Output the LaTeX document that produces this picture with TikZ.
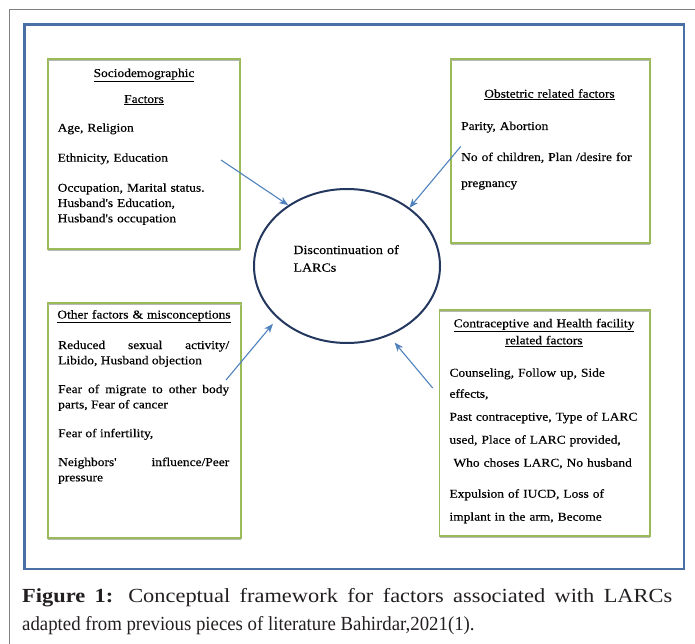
\documentclass[tikz,border=0pt]{standalone}
\usepackage{fontspec}
\newfontfamily\boxfont[FakeStretch=1.12, FakeBold=0.4]{Liberation Serif}
\newfontfamily\capfont[FakeStretch=0.94]{Liberation Serif}
\newfontfamily\capwidefont[FakeStretch=1.12]{Liberation Serif}
\usetikzlibrary{arrows.meta}
\usetikzlibrary{shapes.geometric}
\definecolor{frameblue}{RGB}{74,111,165}
\definecolor{boxgreen}{RGB}{155,187,89}
\definecolor{arrowblue}{RGB}{79,129,189}
\definecolor{ovalnavy}{RGB}{35,55,95}
\definecolor{capgray}{RGB}{35,31,32}

\begin{document}
\begin{tikzpicture}[x=1pt, y=-1pt,
    factorbox/.style={rectangle, draw=boxgreen, line width=1.3pt, inner sep=0pt, outer sep=0pt},
    boxshade/.style={black!28, line width=1.2pt},
    headtxt/.style={font=\boxfont\fontsize{12}{15.3}\selectfont, align=center, inner sep=0pt, anchor=base, text width=#1},
    bodytxt/.style={font=\boxfont\fontsize{12}{15.3}\selectfont, align=left, inner sep=0pt, anchor=base west, text width=#1},
    arr/.style={draw=arrowblue, line width=1.1pt, -{Stealth[length=9pt, width=7pt, inset=2.5pt]}}]
      \useasboundingbox (0,0) rectangle (695,644);

      % frames
      \draw[black!50, line width=1pt] (9.5,644) -- (9.5,10) -- (695,10);
      \draw[frameblue, line width=2.5pt] (24.5,24.5) rectangle (684,569);

      % factor boxes
      \node[factorbox, minimum width=192pt, minimum height=190pt] (socio) at (144,154) {};
      \node[factorbox, minimum width=199pt, minimum height=184pt] (obst) at (550.5,151) {};
      \node[factorbox, minimum width=193pt, minimum height=235pt] (other) at (144.5,420.5) {};
      \node[factorbox, minimum width=210.5pt, minimum height=226pt] (contra) at (544.75,423) {};
      \foreach \b in {socio, obst, other, contra} {
        \draw[boxshade] ([yshift=-1.3pt]\b.north west) -- ([yshift=-1.3pt]\b.north east);
        \draw[boxshade] ([yshift=-1.3pt]\b.south west) -- ([yshift=-1.3pt]\b.south east);
      }

      % central outcome
      \node[ellipse, draw=ovalnavy, line width=2pt, inner sep=0pt, minimum width=186pt, minimum height=154pt] (disc) at (347,266) {};
      \node[bodytxt=110pt, font=\boxfont\fontsize{12.5}{17.7}\selectfont] (disctxt) at (293.3,254) {Discontinuation of\\LARCs};

      % sociodemographic
      \node[headtxt=180pt] (sociohead) at (144,77) {\underline{Sociodemographic}\\[10.7pt]\underline{Factors}};
      \node[bodytxt=178pt] (sociotxt) at (57.5,131.7) {Age, Religion\\[14.7pt]
        Ethnicity, Education\\[14.7pt]
        Occupation, Marital status.\\
        Husband's Education,\\
        Husband's occupation};

      % obstetric
      \node[headtxt=190pt] (obsthead) at (549.5,97.7) {\underline{Obstetric related factors}};
      \node[bodytxt=184pt] (obsttxt) at (461,130) {Parity, Abortion\\[15.7pt]
        No of children, Plan /desire for\\[10.7pt]
        pregnancy};

      % other factors
      \node[headtxt=186pt] (otherhead) at (144,318.5) {\underline{Other factors \& misconceptions}};
      \node[bodytxt=171pt, align=justify] (othertxt) at (58,349) {Reduced sexual activity/\linebreak
        Libido, Husband objection\\[13.5pt]
        Fear of migrate to other body\linebreak
        parts, Fear of cancer\\[13.5pt]
        Fear of infertility,\\[13.5pt]
        Neighbors' influence/Peer\linebreak
        pressure};

      % contraceptive and health facility
      \node[headtxt=200pt] (contrahead) at (544,327.3) {\underline{Contraceptive and Health facility}\\[1.7pt]\underline{related factors}};
      \node[bodytxt=196pt, font=\boxfont\fontsize{12}{23}\selectfont] (contratxt) at (449.3,376.7) {Counseling, Follow up, Side\\[-2pt]
        effects,\\
        Past contraceptive, Type of LARC\\
        used, Place of LARC provided,\\
        \hspace*{4pt}Who choses LARC, No husband\\[8pt]
        Expulsion of IUCD, Loss of\\
        implant in the arm, Become};

      % arrows into the outcome
      \coordinate (s1) at (221,160);
      \coordinate (s2) at (460.7,146.5);
      \coordinate (s3) at (226,380);
      \coordinate (s4) at (432.7,388);
      \draw[arr] (s1) -- (disc.134);
      \draw[arr] (s2) -- (disc.43);
      \draw[arr, shorten >=7pt] (s3) -- (disc.217);
      \draw[arr, shorten >=8.8pt] (s4) -- (disc.301);

      % caption
      \node[font=\capfont\fontsize{20}{28.5}\selectfont, text=capgray, text width=650pt, align=justify, inner sep=0pt, anchor=base west] (caption) at (22,602)
        {{\capwidefont\textbf{Figure 1:} Conceptual framework for factors associated with LARCs}\linebreak adapted from previous pieces of literature Bahirdar,2021(1).};
    \end{tikzpicture}
\end{document}
